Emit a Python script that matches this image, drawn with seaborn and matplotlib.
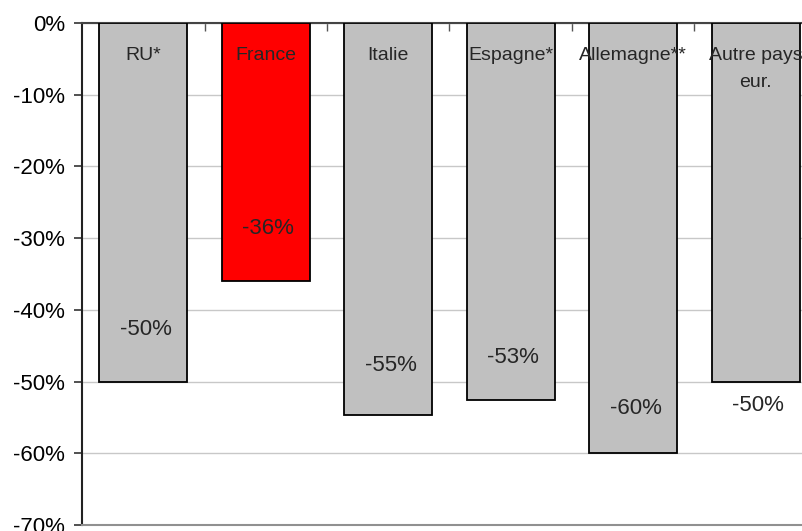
import matplotlib
matplotlib.use("Agg")
import matplotlib.pyplot as plt
import seaborn as sns
import pandas as pd

# Data
categories = ["RU*", "France", "Italie", "Espagne*", "Allemagne**", "Autre pays\neur."]
values = [-50.0, -36.0, -54.6, -52.6, -60.0, -50.0]
bar_colors = ["#c0c0c0", "#ff0000", "#c0c0c0", "#c0c0c0", "#c0c0c0", "#c0c0c0"]
y_ticks = [0, -10, -20, -30, -40, -50, -60, -70]

# Vertical placement of the value labels relative to each bar end (in % points)
label_shift = [7.2, 7.3, 6.9, 6.0, 6.3, -3.3]

sns.set_theme(style="white")
plt.rcParams["font.family"] = ["Liberation Sans", "DejaVu Sans"]

df = pd.DataFrame({"pays": categories, "variation": values})

fig = plt.figure(figsize=(8.03, 5.31), dpi=100)
ax = fig.add_axes([82 / 803, 1 - 525 / 531, (816.5 - 81.5) / 803, (525 - 23) / 531])

sns.barplot(data=df, x="pays", y="variation", hue="pays", palette=bar_colors,
            legend=False, width=0.72, edgecolor="black", linewidth=1.3,
            saturation=1, ax=ax, zorder=3)

ax.set_xlim(-0.5, 5.5)
ax.set_ylim(-70, 0)
ax.set_xlabel("")
ax.set_ylabel("")

# y axis
ax.set_yticks(y_ticks)
ax.set_yticklabels([f"{t}%" for t in y_ticks], fontsize=16, color="black")
ax.tick_params(axis="y", direction="out", length=6, width=1.2, color="#333333",
               left=True, pad=6)
ax.yaxis.grid(True, color="#c8c8c8", linewidth=1.0, zorder=0)
ax.set_axisbelow(True)

# category axis sits on the 0% line
ax.xaxis.tick_top()
ax.set_xticks([0.5, 1.5, 2.5, 3.5, 4.5])
ax.set_xticklabels([])
ax.tick_params(axis="x", direction="in", length=6, width=1.0, color="#555555", top=True)

for side in ["left", "top", "bottom", "right"]:
    ax.spines[side].set_visible(False)
ax.spines["left"].set_visible(True)
ax.spines["left"].set_color("#222222")
ax.spines["left"].set_linewidth(1.5)
ax.spines["top"].set_visible(True)
ax.spines["top"].set_color("#444444")
ax.spines["top"].set_linewidth(1.5)
ax.spines["bottom"].set_visible(True)
ax.spines["bottom"].set_color("#909090")
ax.spines["bottom"].set_linewidth(1.5)

# category names inside the bars, one text per line
first_baseline = -5.16
line_step = 3.77
for i, name in enumerate(categories):
    for k, line in enumerate(name.split("\n")):
        ax.text(i, first_baseline - k * line_step, line, ha="center",
                va="baseline", fontsize=14, zorder=5)

# value labels
for i, (v, s) in enumerate(zip(values, label_shift)):
    ax.text(i + 0.02, v + s, f"{round(v):d}%", ha="center", va="center",
            fontsize=16, zorder=5)

fig.savefig("out.png", dpi=100)
